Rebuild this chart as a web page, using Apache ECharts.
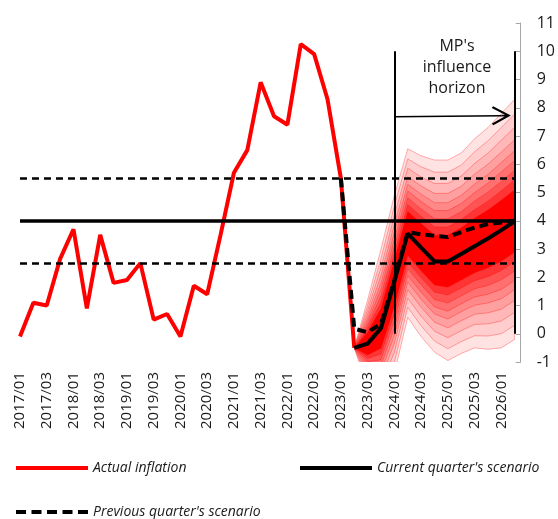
<!DOCTYPE html>
<html>
<head>
<meta charset="utf-8">
<script src="https://cdn.jsdelivr.net/npm/echarts@6/dist/echarts.min.js"></script>
<style>
html, body { margin: 0; padding: 0; background: #fff; }
#main { width: 558px; height: 519px; }
</style>
</head>
<body>
<div id="main"></div>
<script>
// quarters, labelled every second one
var categories = [
  '2017/01', '2017/02', '2017/03', '2017/04', '2018/01', '2018/02', '2018/03', '2018/04',
  '2019/01', '2019/02', '2019/03', '2019/04', '2020/01', '2020/02', '2020/03', '2020/04',
  '2021/01', '2021/02', '2021/03', '2021/04', '2022/01', '2022/02', '2022/03', '2022/04',
  '2023/01', '2023/02', '2023/03', '2023/04', '2024/01', '2024/02', '2024/03', '2024/04',
  '2025/01', '2025/02', '2025/03', '2025/04', '2026/01', '2026/02'
];

var actualInflation = [
  -0.1, 1.1, 1.0, 2.65, 3.7, 0.9, 3.5, 1.8, 1.9, 2.5, 0.5, 0.7, -0.1, 1.7, 1.4, 3.5,
  5.7, 6.5, 8.9, 7.7, 7.4, 10.25, 9.9, 8.3, 5.5, -0.5,
  null, null, null, null, null, null, null, null, null, null, null, null
];

var currentScenario = [
  null, null, null, null, null, null, null, null, null, null, null, null, null, null, null, null,
  null, null, null, null, null, null, null, null, null,
  -0.5, -0.35, 0.2, 1.85, 3.55, 3.05, 2.56, 2.56, 2.82, 3.1, 3.37, 3.67, 3.98
];

var previousScenario = [
  null, null, null, null, null, null, null, null, null, null, null, null, null, null, null, null,
  null, null, null, null, null, null, null, null,
  5.5, 0.18, 0.05, 0.35, 1.9, 3.6, 3.52, 3.47, 3.42, 3.6, 3.76, 3.88, 3.94, 4.0
];

var targetLevel = 4;
var toleranceTop = 5.5;
var toleranceBottom = 2.5;

// fan chart, from 2023/02 to 2026/02, outer band first
var fanStart = '2023/02';
var fanUpper = [
  [-0.5, 1.2, 3.0, 4.9, 6.55, 6.3, 6.15, 6.15, 6.4, 6.9, 7.3, 7.8, 8.3],
  [-0.5, 1.01, 2.66, 4.53, 6.19, 5.91, 5.72, 5.72, 5.97, 6.44, 6.83, 7.3, 7.78],
  [-0.5, 0.84, 2.34, 4.19, 5.86, 5.55, 5.32, 5.32, 5.58, 6.03, 6.39, 6.85, 7.31],
  [-0.5, 0.69, 2.06, 3.88, 5.56, 5.23, 4.97, 4.97, 5.22, 5.65, 6.0, 6.43, 6.87],
  [-0.5, 0.55, 1.8, 3.6, 5.29, 4.94, 4.64, 4.64, 4.9, 5.3, 5.64, 6.06, 6.49],
  [-0.5, 0.43, 1.58, 3.35, 5.05, 4.68, 4.36, 4.36, 4.61, 5.0, 5.33, 5.73, 6.14],
  [-0.5, 0.3, 1.35, 3.1, 4.81, 4.42, 4.07, 4.07, 4.32, 4.7, 5.01, 5.39, 5.79],
  [-0.5, 0.18, 1.12, 2.85, 4.57, 4.16, 3.78, 3.78, 4.04, 4.39, 4.69, 5.06, 5.45],
  [-0.5, 0.05, 0.89, 2.61, 4.33, 3.9, 3.49, 3.49, 3.75, 4.09, 4.38, 4.73, 5.1]
];
var fanLower = [
  [-0.5, -1.9, -2.4, -1.4, 0.58, -0.1, -0.65, -0.95, -0.7, -0.5, -0.55, -0.5, -0.2],
  [-0.5, -1.71, -2.09, -1.02, 0.94, 0.28, -0.26, -0.53, -0.28, -0.07, -0.08, 0.0, 0.3],
  [-0.5, -1.54, -1.81, -0.66, 1.26, 0.62, 0.09, -0.14, 0.11, 0.33, 0.35, 0.45, 0.76],
  [-0.5, -1.39, -1.56, -0.34, 1.56, 0.94, 0.41, 0.21, 0.46, 0.69, 0.74, 0.87, 1.18],
  [-0.5, -1.25, -1.33, -0.06, 1.83, 1.22, 0.7, 0.52, 0.78, 1.01, 1.09, 1.24, 1.56],
  [-0.5, -1.13, -1.13, 0.2, 2.06, 1.47, 0.95, 0.8, 1.06, 1.3, 1.4, 1.57, 1.89],
  [-0.5, -1.0, -0.92, 0.46, 2.3, 1.73, 1.21, 1.09, 1.34, 1.59, 1.71, 1.91, 2.22],
  [-0.5, -0.88, -0.72, 0.71, 2.54, 1.98, 1.47, 1.37, 1.62, 1.88, 2.02, 2.24, 2.56],
  [-0.5, -0.75, -0.51, 0.97, 2.78, 2.23, 1.73, 1.65, 1.9, 2.16, 2.34, 2.57, 2.89]
];
var fanColors = ['#ffe2e2', '#ffcdcd', '#ffb7b7', '#ffa0a0', '#ff8989', '#ff7070', '#ff5454', '#ff3434', '#ff0000'];

var font = '"Open Sans", "DejaVu Sans", sans-serif';
var fanStartIndex = categories.indexOf(fanStart);

// open arrow head, pointing up in its own frame, with a bit of shaft
var arrowHead = 'path://M8,0 L16,13 L14.6,14 L8,3.2 L1.4,14 L0,13 Z M7.3,1 L8.7,1 L8.7,7 L7.3,7 Z';
// legend icons
var solidIcon = 'path://M0,0 L72,0 L72,4 L0,4 Z';
var dashedIcon = 'path://M0,0h10v4h-10z M15.5,0h10v4h-10z M31,0h10v4h-10z M46.5,0h10v4h-10z M62,0h10v4h-10z';

function renderFanBand(params, api) {
  var k = params.dataIndex;
  var pts = [];
  var j;
  for (j = 0; j < fanUpper[k].length; j++) {
    pts.push(api.coord([fanStartIndex + j, fanUpper[k][j]]));
  }
  for (j = fanLower[k].length - 1; j >= 0; j--) {
    pts.push(api.coord([fanStartIndex + j, fanLower[k][j]]));
  }
  return {
    type: 'polygon',
    shape: { points: pts },
    style: { fill: fanColors[k], stroke: 'rgba(255,0,0,0.3)', lineWidth: 1 }
  };
}

var chart = echarts.init(document.getElementById('main'), null, { renderer: 'canvas' });

var legendText = { fontFamily: font, fontSize: 14, fontStyle: 'italic', color: '#1a1a1a' };

chart.setOption({
  animation: false,
  textStyle: { fontFamily: font },
  grid: { left: 20, right: 42, top: 23, bottom: 157 },
  legend: [
    { data: [{ name: 'Actual inflation', icon: solidIcon }], left: 16, top: 461, padding: 0, itemWidth: 72, itemHeight: 4, textStyle: legendText, selectedMode: false },
    { data: [{ name: "Current quarter's scenario", icon: solidIcon }], left: 300, top: 461, padding: 0, itemWidth: 72, itemHeight: 4, textStyle: legendText, selectedMode: false },
    { data: [{ name: "Previous quarter's scenario", icon: dashedIcon }], left: 16, top: 505, padding: 0, itemWidth: 72, itemHeight: 4, textStyle: legendText, selectedMode: false }
  ],
  graphic: [{
    type: 'text',
    x: 457,
    y: 36,
    style: {
      text: "MP's\ninfluence\nhorizon",
      textAlign: 'center',
      textVerticalAlign: 'top',
      fontFamily: font,
      fontSize: 16,
      lineHeight: 21,
      fill: '#1a1a1a'
    }
  }],
  xAxis: {
    type: 'category',
    data: categories,
    boundaryGap: false,
    axisLine: { show: false },
    axisTick: { show: false },
    splitLine: { show: false },
    axisLabel: { interval: 1, rotate: 90, margin: 10, fontSize: 15, color: '#1a1a1a', fontFamily: font }
  },
  yAxis: {
    type: 'value',
    position: 'right',
    offset: 6,
    min: -1,
    max: 11,
    interval: 1,
    splitLine: { show: false },
    axisLine: { show: true, lineStyle: { color: '#a6a6a6', width: 1 } },
    axisTick: { show: true, inside: true, length: 5, lineStyle: { color: '#a6a6a6' } },
    axisLabel: { margin: 16, fontSize: 16, color: '#1a1a1a', fontFamily: font }
  },
  series: [
    {
      name: 'fan',
      type: 'custom',
      clip: true,
      renderItem: renderFanBand,
      data: fanUpper.map(function (u) { return [fanStartIndex, u[0]]; }),
      silent: true,
      z: 1
    },
    {
      name: 'Actual inflation',
      type: 'line',
      data: actualInflation,
      symbol: 'none',
      lineStyle: { color: '#ff0000', width: 4 },
      itemStyle: { color: '#ff0000' },
      z: 3
    },
    {
      name: "Previous quarter's scenario",
      type: 'line',
      data: previousScenario,
      symbol: 'none',
      lineStyle: { color: '#000', width: 4, type: [9, 5] },
      itemStyle: { color: '#000' },
      z: 4
    },
    {
      name: "Current quarter's scenario",
      type: 'line',
      data: currentScenario,
      symbol: 'none',
      lineStyle: { color: '#000', width: 4 },
      itemStyle: { color: '#000' },
      z: 5,
      markLine: {
        silent: true,
        symbol: ['none', 'none'],
        label: { show: false },
        lineStyle: { color: '#000', type: 'solid', width: 2 },
        data: [
          { yAxis: targetLevel, lineStyle: { color: '#000', width: 3.5, type: 'solid' } },
          { yAxis: toleranceTop, lineStyle: { color: '#000', width: 2.5, type: [7, 5] } },
          { yAxis: toleranceBottom, lineStyle: { color: '#000', width: 2.5, type: [7, 5] } },
          [{ coord: ['2024/01', 0] }, { coord: ['2024/01', 10] }],
          [{ coord: ['2026/02', 0] }, { coord: ['2026/02', 10] }],
          [
            { coord: ['2024/01', 7.68], symbol: 'none', lineStyle: { width: 1.5 } },
            { coord: ['2026/01', 7.72], symbol: arrowHead, symbolSize: [19, 19] }
          ]
        ]
      }
    }
  ]
});
</script>
</body>
</html>
